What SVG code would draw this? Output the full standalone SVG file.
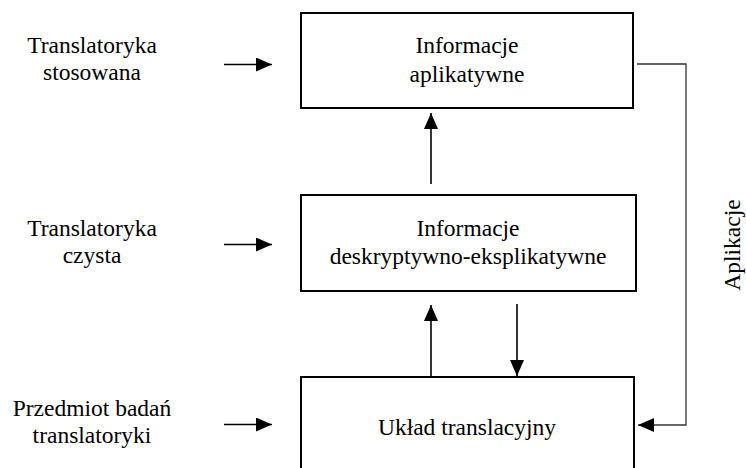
<svg xmlns="http://www.w3.org/2000/svg" width="746" height="468" viewBox="0 0 746 468">
<style>
  text { font-family: "Liberation Serif", "Times New Roman", "DejaVu Serif", serif; font-size: 23.5px; fill: #000; }
  .lbl { text-anchor: middle; }
  .box { fill: #fff; stroke: #000; stroke-width: 2; }
  .conn { stroke: #000; stroke-width: 1.6; fill: none; }
  .fb { stroke: #333; stroke-width: 1.3; fill: none; }
</style>
<defs>
  <marker id="ah" viewBox="0 0 16 14" refX="16" refY="7" markerWidth="16" markerHeight="14" markerUnits="userSpaceOnUse" orient="auto">
    <path d="M0,0 L16,7 L0,14 Z" fill="#000"/>
  </marker>
</defs>
<rect width="746" height="468" fill="#fff"/>

<g id="label-stosowana">
  <text class="lbl" x="92" y="53">Translatoryka</text>
  <text class="lbl" x="92" y="80">stosowana</text>
</g>
<g id="label-czysta">
  <text class="lbl" x="92" y="236">Translatoryka</text>
  <text class="lbl" x="92" y="263">czysta</text>
</g>
<g id="label-przedmiot">
  <text class="lbl" x="92" y="416">Przedmiot badań</text>
  <text class="lbl" x="92" y="443">translatoryki</text>
</g>

<g id="node-aplikatywne">
  <rect class="box" x="301" y="13" width="332" height="95"/>
  <text class="lbl" x="467" y="53">Informacje</text>
  <text class="lbl" x="467" y="82">aplikatywne</text>
</g>
<g id="node-deskryptywne">
  <rect class="box" x="301" y="195" width="335" height="96"/>
  <text class="lbl" x="468" y="236">Informacje</text>
  <text class="lbl" x="468" y="264">deskryptywno-eksplikatywne</text>
</g>
<g id="node-uklad">
  <rect class="box" x="301" y="377" width="333" height="100"/>
  <text class="lbl" x="467" y="435">Układ translacyjny</text>
</g>

<g id="label-aplikacje">
  <text class="lbl" transform="translate(740,245) rotate(-90)" x="0" y="0">Aplikacje</text>
</g>

<g id="connectors">
  <line class="conn" x1="224" y1="64.5" x2="272" y2="64.5" marker-end="url(#ah)"/>
  <line class="conn" x1="224" y1="244.5" x2="272" y2="244.5" marker-end="url(#ah)"/>
  <line class="conn" x1="224" y1="424.5" x2="272" y2="424.5" marker-end="url(#ah)"/>
  <line class="conn" x1="431" y1="184" x2="431" y2="113" marker-end="url(#ah)"/>
  <line class="conn" x1="431" y1="377" x2="431" y2="305" marker-end="url(#ah)"/>
  <line class="conn" x1="517" y1="304" x2="517" y2="376" marker-end="url(#ah)"/>
  <polyline class="fb" points="637,64 686,64 686,425 638,425" marker-end="url(#ah)"/>
</g>
</svg>
